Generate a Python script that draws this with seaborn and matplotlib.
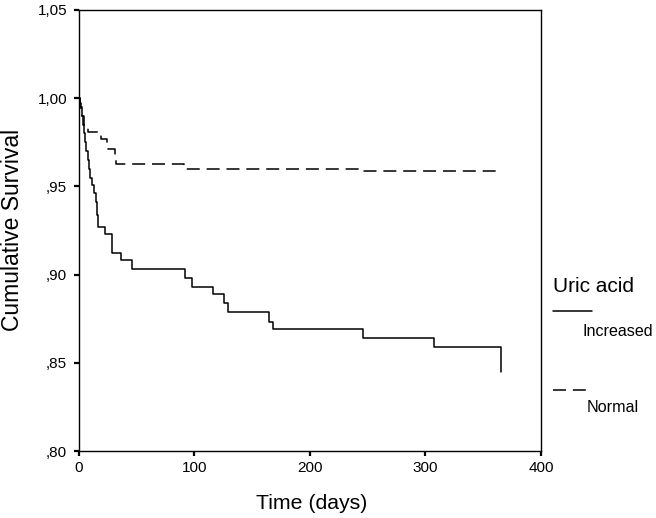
import numpy as np
import pandas as pd
import matplotlib
matplotlib.use("Agg")
import matplotlib.pyplot as plt
import seaborn as sns
from matplotlib.lines import Line2D

# Kaplan-Meier estimates (steps-post)
increased_time = [0, 1, 2.5, 3.5, 4.5, 5.5, 6.5, 7.5, 8.5, 9.5, 11, 13, 14.5, 15.5, 16.5,
                  22.5, 29, 36, 46, 92, 98, 116, 125.5, 129, 164.5, 168, 246, 307, 365, 365]
increased_surv = [1.0, 0.995, 0.99, 0.985, 0.98, 0.975, 0.97, 0.965, 0.96, 0.955, 0.951, 0.946,
                  0.941, 0.934, 0.927, 0.923, 0.9125, 0.908, 0.903, 0.898, 0.893, 0.889, 0.884,
                  0.879, 0.873, 0.869, 0.864, 0.859, 0.859, 0.845]
normal_time = [0, 1, 2, 3, 4, 8, 17, 19, 24, 25, 31, 32, 91, 246, 363]
normal_surv = [1.0, 0.997, 0.993, 0.99, 0.985, 0.981, 0.979, 0.977, 0.973, 0.971, 0.968,
               0.9625, 0.960, 0.9585, 0.9585]

x_ticks = [0, 100, 200, 300, 400]
y_ticks = [0.80, 0.85, 0.90, 0.95, 1.00, 1.05]
y_tick_labels = [",80", ",85", ",90", ",95", "1,00", "1,05"]

sns.set_theme(style="white")
plt.rcParams["font.family"] = ["Liberation Sans", "DejaVu Sans"]

fig = plt.figure(figsize=(6.56, 5.18), dpi=100)
ax = fig.add_axes([0.1204, 0.1293, 0.7043, 0.8514])

inc = pd.DataFrame({"time": increased_time, "surv": increased_surv})
nor = pd.DataFrame({"time": normal_time, "surv": normal_surv})

sns.lineplot(data=inc, x="time", y="surv", ax=ax, color="black", linewidth=1.1,
             drawstyle="steps-post", estimator=None, sort=False)
sns.lineplot(data=nor, x="time", y="surv", ax=ax, color="black", linewidth=1.1,
             drawstyle="steps-post", estimator=None, sort=False, linestyle=(0, (8.5, 4.5)))

ax.set_xlim(0, 400)
ax.set_ylim(0.80, 1.05)
ax.set_xticks(x_ticks)
ax.set_xticklabels([str(t) for t in x_ticks])
ax.set_yticks(y_ticks)
ax.set_yticklabels(y_tick_labels)
ax.tick_params(axis="both", direction="out", length=3.5, width=1.6, color="black",
               labelsize=11, labelcolor="black", bottom=True, left=True)
ax.tick_params(axis="x", pad=4)
ax.tick_params(axis="y", pad=5)
for s in ax.spines.values():
    s.set_color("black")
    s.set_linewidth(1.0)

ax.set_xlabel("Time (days)", fontsize=15.3, color="black", va="center")
ax.xaxis.set_label_coords(0.503, -0.118)
ax.set_ylabel("Cumulative Survival", fontsize=16.5, color="black", va="center")
ax.yaxis.set_label_coords(-0.143, 0.501)

# SPSS-style legend to the right of the plot
W, H = 656, 518
def fx(px):
    return px / W
def fy(py):
    return 1 - py / H

fig.text(fx(553), fy(286), "Uric acid", fontsize=15, va="center", ha="left", color="black")
fig.add_artist(Line2D([fx(553), fx(592)], [fy(311), fy(311)], color="black", linewidth=1.1))
fig.text(fx(583), fy(331), "Increased", fontsize=11.6, va="center", ha="left", color="black")
fig.add_artist(Line2D([fx(553), fx(587)], [fy(390), fy(390)], color="black", linewidth=1.1,
                      linestyle=(0, (8.5, 4.5))))
fig.text(fx(587), fy(408), "Normal", fontsize=11.6, va="center", ha="left", color="black")

fig.savefig("out.png", dpi=100)
